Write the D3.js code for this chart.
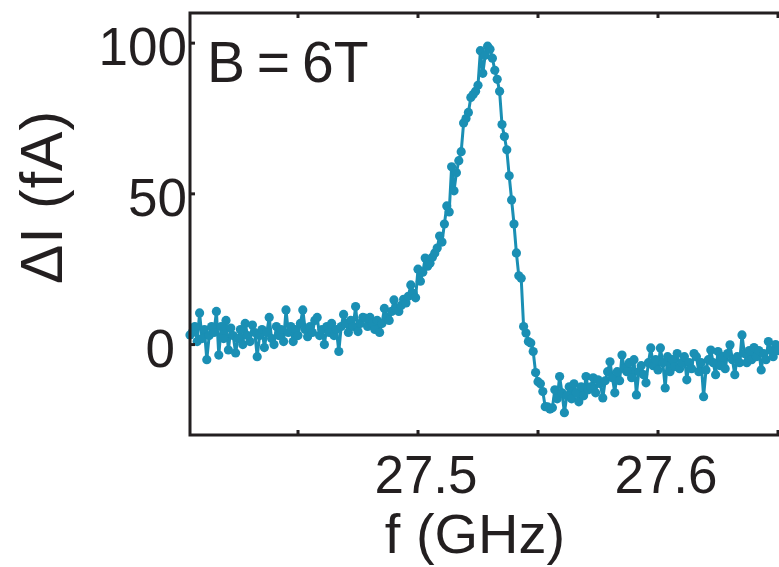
<!DOCTYPE html>
<html>
<head>
<meta charset="utf-8">
<script src="https://cdn.jsdelivr.net/npm/d3@7"></script>
<style>
  body { margin: 0; background: #fff; }
  text { font-family: "Liberation Sans", Arial, sans-serif; fill: #231f20; }
</style>
</head>
<body>
<div id="chart"></div>
<script>
/*---------- DATA ----------*/
// Frequency sweep: start and step of the measurement grid (GHz)
const fStart = 27.405;
const fStep = 0.001;

// Measured current change dI (fA), one value per frequency step
const deltaI = [
  3.2, 4, 6, 1, 10.5, 2, 5, -5, 3, 6,
  4, 11, -3.5, 6, 2, 8, -1.8, 5.5, 3, -2.8,
  2, 5, 0, 7, 3, 1, 6.5, 4, -4, 3,
  5, -1, 4, 9, 2, 0, 6, 3, 5, 1,
  11.5, 4, 6, 1, 5, 3, 7, 11.5, 5, 2.6,
  6, 4, 8, 9, 3, 5, 0, 6, 4, 7,
  3, 5, -2.3, 6, 10, 7, 4, 8, 6, 12.6,
  4.3, 7, 9, 8.8, 6, 9, 7, 5, 8, 4,
  7, 12, 9, 8, 11, 14.8, 12, 11, 13, 15,
  13.8, 16, 19.8, 17, 15.5, 25, 21, 24, 28.7, 26,
  27, 29, 30.4, 32, 36, 34, 40, 46, 44, 59,
  51, 57, 61, 64, 73.5, 75, 77, 82, 83, 84,
  86, 97.5, 90, 96, 99, 98, 95, 91, 88, 84,
  73, 69, 64.6, 56, 48, 40, 30.4, 22.8, 22, 6,
  3.8, 1, 0.5, -2.3, -9.3, -12.3, -13, -15.6, -20.6, -20.7,
  -21.4, -21, -15, -18, -10.6, -16, -22.6, -17, -14, -18,
  -13, -16, -19, -14, -17, -10.6, -15, -14, -11, -16,
  -11.7, -13, -17.7, -12, -9, -5.7, -11, -16, -9, -12,
  -3.5, -8, -9, -6, -11, -5, -16.7, -9, -7, -10,
  -12.7, -6, -1.1, -7, -5, -8.4, -1.1, -6, -14.4, -4,
  -9, -5, -7.3, -3, -8, -6, -4, -11.7, -6, -8,
  -3, -4, -9, -6, -17.3, -8.4, -5, -1.8, -6, -10,
  -2.3, -7, -4, -8, -3, -0.1, -5, -10, -4, -6,
  3.2, -3, -6, -2, -5, -1, -4, -2, -8.4, -3,
  -5, 1, -2, -4, 0, -2,
];

// Axis ticks and annotation
const xTicks = [27.45, 27.5, 27.55, 27.6, 27.65];
const xTickLabels = ["", "27.5", "", "27.6", ""];
const yTicks = [0, 50, 100];
const xDomain = [27.405, 27.7];
const yDomain = [-30, 110];
const fieldLabel = "B = 6T";

/*---------- PLOTTING ----------*/
let width = 779;
let height = 567;
let color = "#1a8fb4";
let axisColor = "#231f20";

let svg = d3
  .select("#chart")
  .append("svg")
  .attr("width", width)
  .attr("height", height);

// Scales: the plot frame runs past the right edge of the picture
let x = d3.scaleLinear().domain(xDomain).range([190, 898]);
let y = d3.scaleLinear().domain(yDomain).range([435, 13]);

let points = deltaI.map((v, i) => ({ f: fStart + i * fStep, v: v }));

// Data line
let line = d3
  .line()
  .x((d) => x(d.f))
  .y((d) => y(d.v));

svg
  .append("path")
  .datum(points)
  .attr("d", line)
  .attr("fill", "none")
  .attr("stroke", color)
  .attr("stroke-width", 3)
  .attr("stroke-linejoin", "round");

// Little circles on every measurement
svg
  .selectAll("circle.pt")
  .data(points)
  .join("circle")
  .attr("class", "pt")
  .attr("cx", (d) => x(d.f))
  .attr("cy", (d) => y(d.v))
  .attr("r", 4.6)
  .attr("fill", color);

// Frame (box)
svg
  .append("rect")
  .attr("x", x.range()[0])
  .attr("y", y.range()[1])
  .attr("width", x.range()[1] - x.range()[0])
  .attr("height", y.range()[0] - y.range()[1])
  .attr("fill", "none")
  .attr("stroke", axisColor)
  .attr("stroke-width", 3);

// Inward ticks on bottom, top and left
let tickLen = 5;
svg
  .selectAll("line.xb")
  .data(xTicks)
  .join("line")
  .attr("class", "xb")
  .attr("x1", (d) => x(d))
  .attr("x2", (d) => x(d))
  .attr("y1", y.range()[0])
  .attr("y2", y.range()[0] - tickLen)
  .attr("stroke", axisColor)
  .attr("stroke-width", 3);

svg
  .selectAll("line.xt")
  .data(xTicks)
  .join("line")
  .attr("class", "xt")
  .attr("x1", (d) => x(d))
  .attr("x2", (d) => x(d))
  .attr("y1", y.range()[1])
  .attr("y2", y.range()[1] + tickLen)
  .attr("stroke", axisColor)
  .attr("stroke-width", 3);

svg
  .selectAll("line.yl")
  .data(yTicks)
  .join("line")
  .attr("class", "yl")
  .attr("x1", x.range()[0])
  .attr("x2", x.range()[0] + tickLen)
  .attr("y1", (d) => y(d))
  .attr("y2", (d) => y(d))
  .attr("stroke", axisColor)
  .attr("stroke-width", 3);

// Tick labels
svg
  .selectAll("text.xl")
  .data(xTicks)
  .join("text")
  .attr("class", "xl")
  .attr("x", (d) => x(d) + 8)
  .attr("y", 493)
  .attr("text-anchor", "middle")
  .attr("font-size", "53px")
  .text((d, i) => xTickLabels[i]);

svg
  .selectAll("text.ylab")
  .data(yTicks)
  .join("text")
  .attr("class", "ylab")
  .attr("x", (d) => (d === 0 ? 175 : 187))
  .attr("y", (d) => y(d) + 22)
  .attr("text-anchor", "end")
  .attr("font-size", "53px")
  .text((d) => d);

// Axis titles
svg
  .append("text")
  .attr("x", 475)
  .attr("y", 553)
  .attr("text-anchor", "middle")
  .attr("font-size", "56px")
  .text("f (GHz)");

svg
  .append("text")
  .attr("transform", "translate(62, 197) rotate(-90)")
  .attr("text-anchor", "middle")
  .attr("font-size", "59px")
  .attr("letter-spacing", "1px")
  .text("ΔI (fA)");

// Field annotation
svg
  .append("text")
  .attr("x", 207)
  .attr("y", 82)
  .attr("font-size", "57px")
  .attr("word-spacing", "-4px")
  .text(fieldLabel);
</script>
</body>
</html>
